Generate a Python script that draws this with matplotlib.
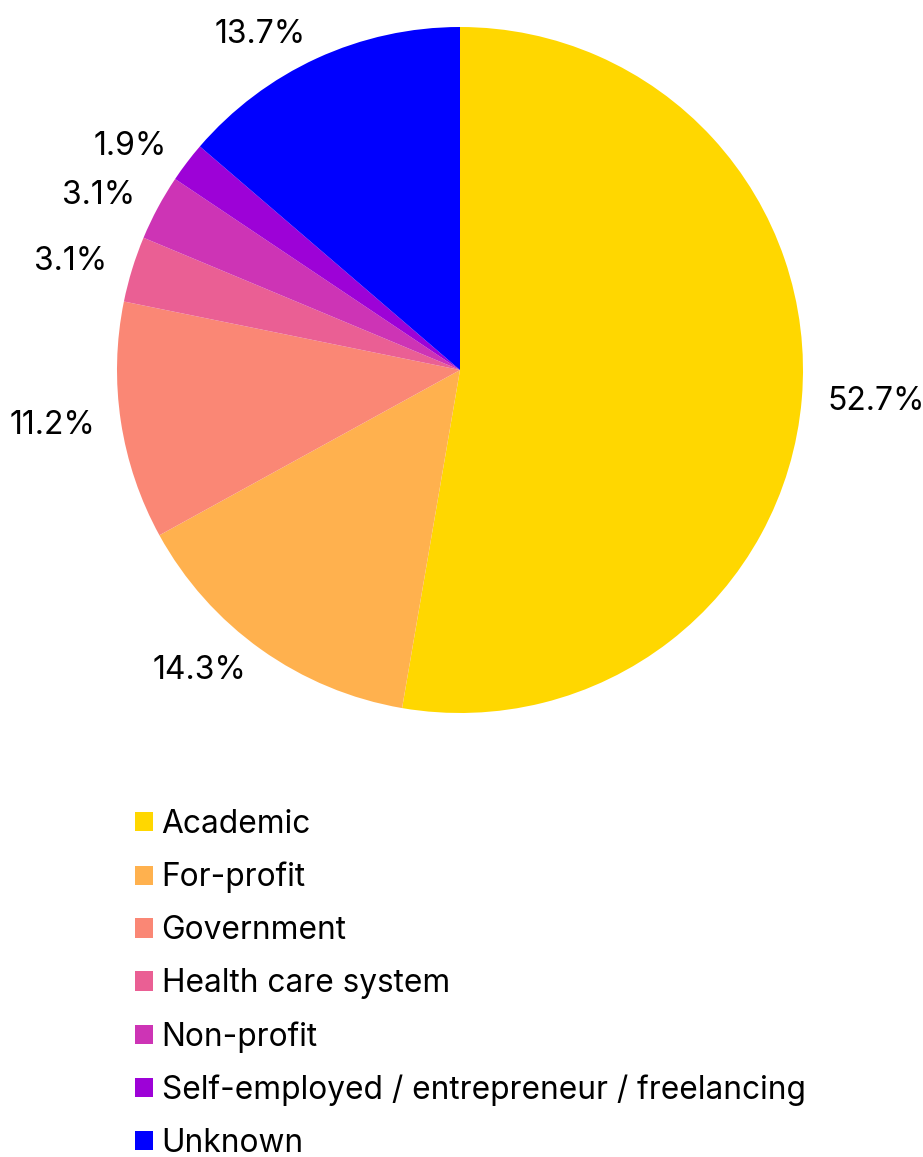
import matplotlib
matplotlib.use("Agg")
import matplotlib.pyplot as plt

plt.rcParams['font.family'] = ['Inter', 'DejaVu Sans']

categories = ['Academic', 'For-profit', 'Government', 'Health care system',
              'Non-profit', 'Self-employed / entrepreneur / freelancing', 'Unknown']
shares = [52.7, 14.3, 11.2, 3.1, 3.1, 1.9, 13.7]
colors = ['#FFD700', '#FFB14E', '#FA8775', '#EA5F94', '#CD34B5', '#9D02D7', '#0000FF']
pct_labels = [f'{v:.1f}%' for v in shares]

W, H = 923, 1157
fig = plt.figure(figsize=(W / 100, H / 100), dpi=100)

# pie centre (460, 370) px, radius 343 px
cx, cy, R = 460, 370, 343
ax_bottom_px = 760
ax = fig.add_axes([0, (H - ax_bottom_px) / H, 1, ax_bottom_px / H])
wedges, texts = ax.pie(shares, colors=colors, labels=pct_labels,
                       startangle=90, counterclock=False,
                       labeldistance=1.075,
                       textprops=dict(fontsize=23, color='black'),
                       wedgeprops=dict(linewidth=0))
ax.set_xlim(-cx / R, (W - cx) / R)
ax.set_ylim((cy - ax_bottom_px) / R, cy / R)
ax.set_aspect('equal')
for t in texts:
    t.set_va('center')

fig.legend(wedges, categories, loc='upper left',
           bbox_to_anchor=(135 / W, 1 - 809 / H),
           frameon=False, fontsize=22.8, borderpad=0, borderaxespad=0,
           handlelength=0.56, handleheight=0.56, handletextpad=0.28,
           labelspacing=0.69)

fig.savefig('out.png', dpi=100)
